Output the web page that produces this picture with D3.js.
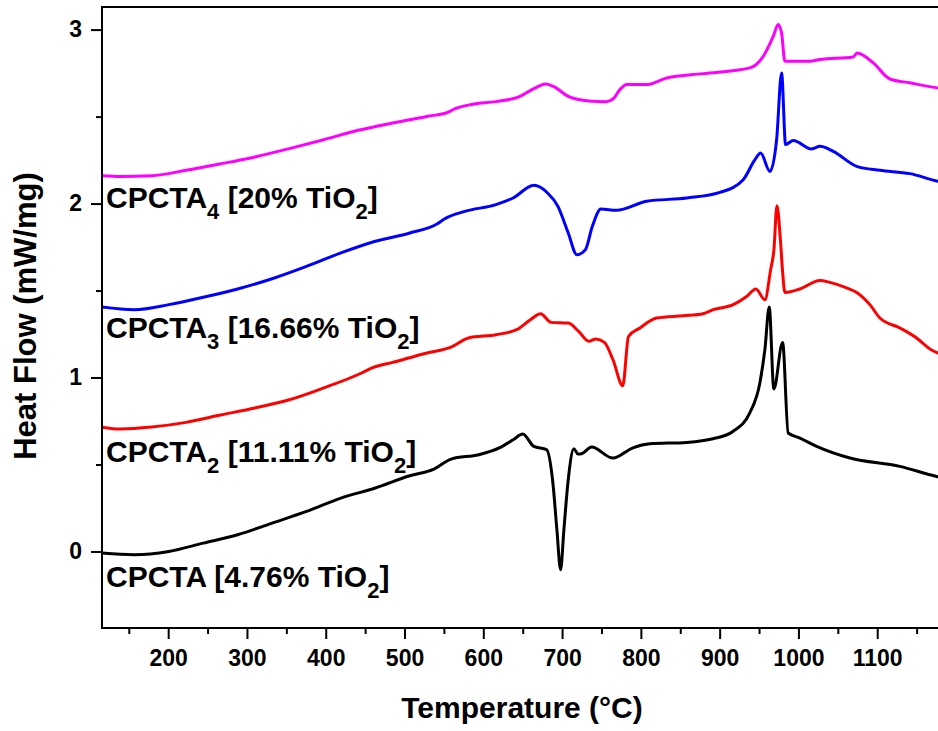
<!DOCTYPE html>
<html><head><meta charset="utf-8">
<script src="https://cdn.jsdelivr.net/npm/d3@7"></script>
<style>
body{margin:0;background:#fff}
svg{display:block}
text{font-family:"Liberation Sans",Arial,Helvetica,sans-serif;font-weight:bold;fill:#000}
</style>
</head><body>
<svg id="chart" width="938" height="731"></svg>
<script>
// ---- data ----
const xMajorTicks = [200,300,400,500,600,700,800,900,1000,1100];
const xMinorTicks = [150,250,350,450,550,650,750,850,950,1050,1150];
const yMajorTicks = [0,1,2,3];
const yMinorTicks = [0.5,1.5,2.5];

const seriesNames = ["CPCTA","CPCTA2","CPCTA3","CPCTA4"];
const seriesColors = ["#000000","#ff0000","#0000ff","#ff00ff"];
const labelMain = ["CPCTA","CPCTA","CPCTA","CPCTA"];
const labelSub = ["","2","3","4"];
const labelPct = ["4.76%","11.11%","16.66%","20%"];

const dataCPCTA = [
 [115.5,-0.009],[157,-0.019],[200.8,0.0],[244.4,0.048],[288.1,0.096],[331.9,0.163],
 [375.6,0.23],[419.2,0.307],[463,0.365],[506.7,0.435],[537.3,0.474],[559.1,0.531],
 [594.1,0.556],[620.3,0.595],[637.8,0.642],[650.1,0.675],[664.1,0.604],[680.3,0.585],
 [688.3,0.395],[693.4,0.125],[698.1,-0.105],[702.3,0.125],[707.4,0.395],[715,0.591],
 [720.1,0.56],[724.8,0.562],[737.5,0.6],[764.5,0.537],[789.9,0.596],[811.5,0.619],
 [858.1,0.627],[891.4,0.648],[916.8,0.69],[938.4,0.798],[951.1,0.97],[957.4,1.16],
 [962.9,1.405],[968.8,0.934],[979.9,1.202],[987,0.681],[1001.9,0.652],[1023.1,0.604],
 [1065.4,0.537],[1128.8,0.489],[1175.4,0.431],[1200,0.41]
];
const dataCPCTA2 = [
 [115.5,0.715],[139.6,0.704],[178.9,0.715],[222.6,0.742],[266.3,0.784],[310.1,0.825],
 [353.7,0.872],[397.4,0.94],[445.5,1.026],[458.6,1.055],[484.9,1.087],[528.5,1.141],
 [559.1,1.175],[581.1,1.227],[616,1.246],[642.3,1.275],[659.7,1.332],[672.8,1.367],
 [685.9,1.317],[707.8,1.313],[721,1.265],[734,1.208],[742.8,1.221],[753.7,1.202],
 [764.6,1.102],[777,0.953],[784.3,1.236],[798.8,1.285],[820,1.342],[853.7,1.355],
 [879.1,1.367],[891.8,1.39],[917.2,1.419],[934.2,1.466],[946,1.509],[957.4,1.447],
 [964.7,1.62],[968.9,1.735],[972.7,1.988],[977.1,1.792],[979.7,1.62],[982.8,1.489],
 [1001.9,1.509],[1027.3,1.558],[1040,1.547],[1061.2,1.515],[1073.9,1.489],[1090.7,1.419],
 [1103.4,1.342],[1128.8,1.285],[1150,1.227],[1166.9,1.164],[1177.1,1.141],[1200,1.12]
];
const dataCPCTA3 = [
 [115.5,1.405],[157,1.39],[200.8,1.419],[244.4,1.461],[288.1,1.509],[331.9,1.568],
 [375.6,1.639],[419.2,1.716],[463,1.783],[506.7,1.831],[541.7,1.884],[550.5,1.911],
 [576.6,1.955],[616,1.994],[637.8,2.032],[664.1,2.105],[681.6,2.061],[694.7,1.984],
 [707.8,1.831],[718.7,1.706],[729.6,1.735],[738.4,1.869],[749.3,1.969],[769,1.961],
 [807.3,2.013],[858.1,2.032],[900.3,2.064],[929.9,2.137],[944.8,2.252],[952,2.291],
 [963.8,2.185],[972.3,2.367],[978.6,2.751],[983.7,2.339],[993.4,2.363],[1016.7,2.314],
 [1027.3,2.329],[1044.2,2.3],[1073.9,2.214],[1103.4,2.191],[1141.5,2.172],[1177.1,2.128],[1200,2.11]
];
const dataCPCTA4 = [
 [115.5,2.16],[139.6,2.156],[178.9,2.16],[222.6,2.191],[266.3,2.228],[310.1,2.268],
 [353.7,2.316],[397.4,2.367],[441.2,2.421],[484.9,2.463],[528.5,2.501],[554.8,2.524],
 [563.6,2.544],[585.4,2.57],[616,2.586],[646.6,2.616],[664.1,2.661],[679.3,2.688],
 [690.2,2.671],[707.8,2.616],[734,2.59],[755.9,2.586],[764.6,2.601],[773.4,2.655],
 [782,2.684],[807.3,2.684],[832.7,2.722],[879.1,2.747],[938.4,2.78],[955.3,2.846],
 [968,2.961],[974.3,3.029],[978.6,2.981],[982.8,2.818],[1014.6,2.818],[1027.2,2.828],
 [1069.5,2.843],[1074.6,2.866],[1094.9,2.809],[1116.1,2.716],[1141.5,2.694],[1177.1,2.665],[1200,2.655]
];
const seriesData = [dataCPCTA, dataCPCTA2, dataCPCTA3, dataCPCTA4];

const xDomain = [116,1200];
const yDomain = [-0.44,3.13];
const xTitle = "Temperature (\u00B0C)";
const yTitle = "Heat Flow (mW/mg)";

// ---- layout ----
const svg = d3.select("#chart");
const L = 102, R = 956, T = 7, B = 628;
const x = d3.scaleLinear().domain(xDomain).range([L,R]);
const y = d3.scaleLinear().domain(yDomain).range([B,T]);

svg.append("defs").append("clipPath").attr("id","clip")
  .append("rect").attr("x",L).attr("y",T).attr("width",R-L).attr("height",B-T);

// curves
const line = d3.line().x(d=>x(d[0])).y(d=>y(d[1])).curve(d3.curveMonotoneX);
const g = svg.append("g").attr("clip-path","url(#clip)");
seriesData.forEach((s,i)=>{
  g.append("path").datum(s).attr("d",line).attr("fill","none")
   .attr("stroke",seriesColors[i]).attr("stroke-width",3)
   .attr("stroke-linejoin","round").attr("stroke-linecap","round");
});

// axes
const fmt = d3.format("d");
const xAx = svg.append("g").attr("transform",`translate(0,${B})`)
  .call(d3.axisBottom(x).tickValues(xMajorTicks).tickSize(11).tickSizeOuter(0).tickPadding(10).tickFormat(fmt));
const xAxMin = svg.append("g").attr("transform",`translate(0,${B})`)
  .call(d3.axisBottom(x).tickValues(xMinorTicks).tickSize(6).tickFormat(""));
const yAx = svg.append("g").attr("transform",`translate(${L},0)`)
  .call(d3.axisLeft(y).tickValues(yMajorTicks).tickSize(11).tickSizeOuter(0).tickPadding(9).tickFormat(fmt));
const yAxMin = svg.append("g").attr("transform",`translate(${L},0)`)
  .call(d3.axisLeft(y).tickValues(yMinorTicks).tickSize(6).tickFormat(""));
[xAx,xAxMin,yAx,yAxMin].forEach(a=>{
  a.select(".domain").remove();
  a.selectAll(".tick line").attr("stroke","#000").attr("stroke-width",2);
  a.selectAll("text").attr("font-size",23).attr("fill","#000")
    .attr("font-family","'Liberation Sans',Arial,sans-serif").attr("font-weight","bold");
});
xAx.selectAll("text").attr("dy","0.75em");

// frame
svg.append("rect").attr("x",L).attr("y",T).attr("width",R-L).attr("height",B-T)
  .attr("fill","none").attr("stroke","#000").attr("stroke-width",2);

// axis titles
svg.append("text").attr("x",522).attr("y",718).attr("text-anchor","middle")
  .attr("font-size",30).text(xTitle);
svg.append("text").attr("transform","translate(36,316) rotate(-90)").attr("text-anchor","middle")
  .attr("font-size",31).text(yTitle);

// series labels
seriesNames.forEach((n,i)=>{
  const t = svg.append("text").attr("x",106).attr("y",[587,462,338,208][i]).attr("font-size",30);
  t.append("tspan").text(labelMain[i]);
  if(labelSub[i]) t.append("tspan").attr("font-size",22).attr("dy",11).text(labelSub[i]);
  t.append("tspan").attr("dy",labelSub[i]?-11:0).text(" [" + labelPct[i] + " TiO");
  t.append("tspan").attr("font-size",22).attr("dy",11).text("2");
  t.append("tspan").attr("dy",-11).text("]");
});
</script>
</body></html>
